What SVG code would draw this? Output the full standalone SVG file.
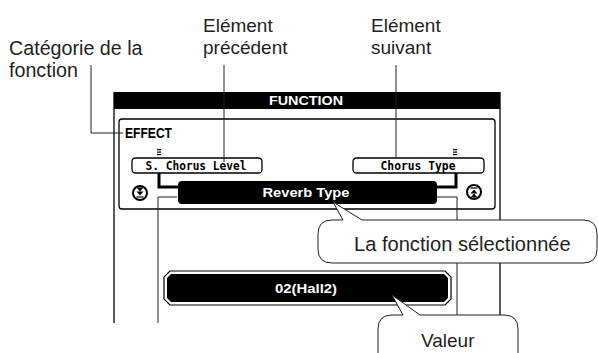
<svg xmlns="http://www.w3.org/2000/svg" width="598" height="353" viewBox="0 0 598 353">
<style>
.lbl{font-family:"Liberation Sans",Arial,sans-serif;fill:#231f20}
.lcd{font-family:"DejaVu Sans Mono","Liberation Mono",monospace;font-weight:bold}
.wb{font-family:"Liberation Sans",Arial,sans-serif;font-weight:bold;fill:#fff}
.ln{fill:none;stroke:#231f20;stroke-width:1}
.fr{fill:none;stroke:#000;stroke-width:1.3}
.thick{fill:none;stroke:#000;stroke-width:3}
.bub{fill:#fff;stroke:#231f20;stroke-width:1}
</style>
<rect width="598" height="353" fill="#fff"/>
<g id="screen">
  <line x1="114" y1="92" x2="114" y2="323" class="fr"/>
  <line x1="500" y1="92" x2="500" y2="323" class="fr"/>
  <rect x="114" y="92" width="386" height="17" fill="#000"/>
  <text x="306" y="105" class="wb" font-size="13" text-anchor="middle" textLength="74" lengthAdjust="spacingAndGlyphs">FUNCTION</text>
  <rect x="119" y="119" width="376" height="90" rx="3" class="fr"/>
  <text x="125" y="138" font-family="'Liberation Sans',Arial,sans-serif" font-weight="bold" font-size="15" textLength="47" lengthAdjust="spacingAndGlyphs" fill="#000">EFFECT</text>
</g>
<g id="prev-item">
  <g fill="#000"><rect x="157" y="149" width="4" height="1.2"/><rect x="157" y="151.5" width="4" height="1.2"/><rect x="157" y="154" width="4" height="1.2"/></g>
  <rect x="132" y="158" width="130" height="15" rx="3.5" class="fr"/>
  <text x="196" y="169.5" class="lcd" font-size="12" text-anchor="middle" textLength="101" lengthAdjust="spacingAndGlyphs">S. Chorus Level</text>
</g>
<g id="next-item">
  <g fill="#000"><rect x="453" y="149" width="4" height="1.2"/><rect x="453" y="151.5" width="4" height="1.2"/><rect x="453" y="154" width="4" height="1.2"/></g>
  <rect x="353" y="158" width="131" height="15" rx="3.5" class="fr"/>
  <text x="418" y="169.5" class="lcd" font-size="12" text-anchor="middle" textLength="75" lengthAdjust="spacingAndGlyphs">Chorus Type</text>
</g>
<g id="btn-down">
  <circle cx="140" cy="193" r="7" fill="#fff" stroke="#000" stroke-width="2"/>
  <path d="M136.5,187.5 H143.5 L140,191.5 Z M136.5,191.5 H143.5 L140,195.5 Z" fill="#000"/>
  <line x1="136.5" y1="197" x2="143.5" y2="197" stroke="#000" stroke-width="1.2"/>
</g>
<g id="btn-up">
  <circle cx="474" cy="192" r="7" fill="#fff" stroke="#000" stroke-width="2"/>
  <path d="M470.5,193.5 H477.5 L474,189.5 Z M470.5,197.5 H477.5 L474,193.5 Z" fill="#000"/>
  <line x1="470.5" y1="188" x2="477.5" y2="188" stroke="#000" stroke-width="1.2"/>
</g>
<g id="selected">
  <rect x="178" y="181" width="259" height="23" rx="4" fill="#000"/>
  <text x="306" y="197" class="wb" font-size="13.5" text-anchor="middle" textLength="87" lengthAdjust="spacingAndGlyphs">Reverb Type</text>
</g>
<g id="value">
  <path d="M170,271 H445 L451,277 V299 L445,305 H170 L164,299 V277 Z" fill="#fff" stroke="#000" stroke-width="1.2"/>
  <path d="M171,274 H444 L448,278 V298 L444,302 H171 L167,298 V278 Z" fill="#000"/>
  <text x="306" y="293" class="wb" font-size="13.5" text-anchor="middle" textLength="62" lengthAdjust="spacingAndGlyphs">02(Hall2)</text>
</g>
<g id="connectors">
  <path d="M159,173 V187 H178" class="thick"/>
  <path d="M456,173 V187 H437" class="thick"/>
  <path d="M177,197 H158 V323" class="ln"/>
  <path d="M437,197 H457 V323" class="ln"/>
  <path d="M91,65 V133 H123" class="ln"/>
  <path d="M224,65 V162" class="ln"/>
  <path d="M396,65 V158" class="ln"/>
</g>
<g id="label-category">
  <text x="9" y="55" class="lbl" font-size="19.7">Catégorie de la</text>
  <text x="9" y="77" class="lbl" font-size="19.7">fonction</text>
</g>
<g id="label-prev">
  <text x="203" y="32" class="lbl" font-size="19">Elément</text>
  <text x="203" y="54" class="lbl" font-size="19">précédent</text>
</g>
<g id="label-next">
  <text x="371" y="32" class="lbl" font-size="19">Elément</text>
  <text x="371" y="54" class="lbl" font-size="19">suivant</text>
</g>
<g id="bubble-selected">
  <path d="M332,220 H343 L333,202 L362,220 H583 Q597,220 597,234 V249 Q597,263 583,263 H332 Q318,263 318,249 V234 Q318,220 332,220 Z" class="bub"/>
  <text x="354" y="251" class="lbl" font-size="20.1">La fonction sélectionnée</text>
</g>
<g id="bubble-value">
  <path d="M392,315 H403 L392,295 L420,315 H504 Q518,315 518,329 V360 H378 V329 Q378,315 392,315 Z" class="bub"/>
  <text x="421" y="347" class="lbl" font-size="19">Valeur</text>
</g>
</svg>
